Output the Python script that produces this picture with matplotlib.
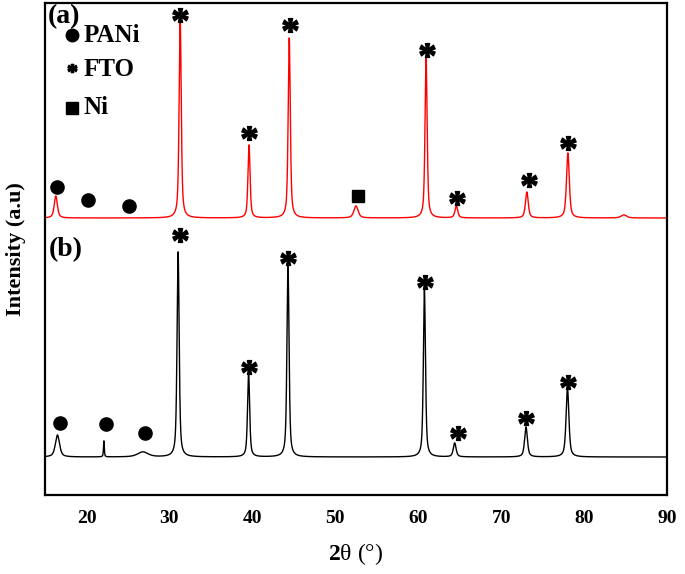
import numpy as np
import matplotlib
matplotlib.use("Agg")
import matplotlib.pyplot as plt
from matplotlib.textpath import TextPath
from matplotlib.font_manager import FontProperties
from matplotlib.path import Path

plt.rcParams["font.family"] = ["Liberation Serif", "DejaVu Serif"]
plt.rcParams["mathtext.fontset"] = "custom"
plt.rcParams["mathtext.rm"] = "Liberation Serif"
plt.rcParams["mathtext.bf"] = "Liberation Serif:bold"

# peak tables (2theta, height a.u., fwhm deg)
a_pos = [16.3, 31.3, 39.6, 44.45, 52.5, 60.95, 64.6, 73.1, 78.05, 84.8]
a_hgt = [22, 200, 73, 180, 12, 160, 12, 26, 65, 3]
a_fwhm = [0.45, 0.3, 0.3, 0.3, 0.6, 0.3, 0.4, 0.4, 0.4, 0.8]
a_base = 277

b_pos = [16.5, 22.1, 26.8, 31.05, 39.55, 44.3, 60.75, 64.4, 73.0, 78.0]
b_hgt = [22, 16, 5, 205, 84, 192, 167, 14, 30, 69]
b_fwhm = [0.6, 0.12, 1.5, 0.3, 0.3, 0.3, 0.3, 0.4, 0.4, 0.4]
b_base = 38

# phase markers
a_fto = [(31.3, 480), (39.6, 362), (44.5, 470), (61.1, 445), (64.7, 297), (73.3, 315), (78.1, 352)]
a_pani = [(16.5, 308), (20.2, 295), (25.1, 289)]
a_ni = [(52.7, 299)]
b_fto = [(31.3, 260), (39.6, 128), (44.3, 237), (60.8, 213), (64.8, 62), (73.0, 77), (78.1, 113)]
b_pani = [(16.8, 72), (22.4, 71), (27.0, 62)]

xticks = [20, 30, 40, 50, 60, 70, 80, 90]


def pattern(tt, pos, hgt, fwhm, base, eta=0.6):
    y = np.full_like(tt, float(base))
    for p, h, w in zip(pos, hgt, fwhm):
        g = np.exp(-4 * np.log(2) * ((tt - p) / w) ** 2)
        l = 1 / (1 + 4 * ((tt - p) / w) ** 2)
        y += h * (eta * l + (1 - eta) * g)
    return y


# asterisk glyph as a marker (centred on its ink)
tp = TextPath((0, 0), "*", prop=FontProperties(family="Liberation Serif", weight="bold"), size=10)
ext = tp.get_extents()
v = tp.vertices - [(ext.x0 + ext.x1) / 2, (ext.y0 + ext.y1) / 2]
v[tp.codes == Path.CLOSEPOLY] = 0
star = Path(v, tp.codes)

tt = np.arange(15, 90, 0.01)
fig = plt.figure(figsize=(6.85, 5.74), dpi=100)
ax = fig.add_axes([45 / 685, 79 / 574, 622 / 685, 492 / 574])

ax.plot(tt, pattern(tt, a_pos, a_hgt, a_fwhm, a_base), color="red", lw=1.0)
ax.plot(tt, pattern(tt, b_pos, b_hgt, b_fwhm, b_base), color="black", lw=1.0)

for pts in (a_fto, b_fto):
    ax.plot(*zip(*pts), ls="none", marker=star, ms=11, color="black")
for pts in (a_pani, b_pani):
    ax.plot(*zip(*pts), ls="none", marker="o", ms=9.5, color="black")
ax.plot(*zip(*a_ni), ls="none", marker="s", ms=9, color="black")

# key
ax.plot(18.26, 460, marker="o", ms=9, color="black")
ax.plot(18.26, 427, marker=star, ms=6.5, color="black")
ax.plot(18.26, 387, marker="s", ms=8, color="black")
for yy, lab in [(460, "PANi"), (425, "FTO"), (387, "Ni")]:
    ax.text(19.7, yy, lab, fontsize=18, fontweight="bold", va="center")
ax.text(15.3, 478, "(a)", fontsize=20, fontweight="bold", va="center")
ax.text(15.5, 245, "(b)", fontsize=20, fontweight="bold", va="center")

ax.set_xlim(15, 90)
ax.set_ylim(0, 492)
ax.set_xticks(xticks)
ax.set_yticks([])
ax.tick_params(axis="x", length=0, pad=11, labelsize=14)
for t in ax.get_xticklabels():
    t.set_fontweight("bold")
for s in ax.spines.values():
    s.set_linewidth(1.6)
ax.set_xlabel(r"$\mathbf{2}$θ (°)", fontsize=17, labelpad=10)
ax.set_ylabel("Intensity (a.u)", fontsize=16, fontweight="bold", labelpad=14)

fig.savefig("out.png", dpi=100)
